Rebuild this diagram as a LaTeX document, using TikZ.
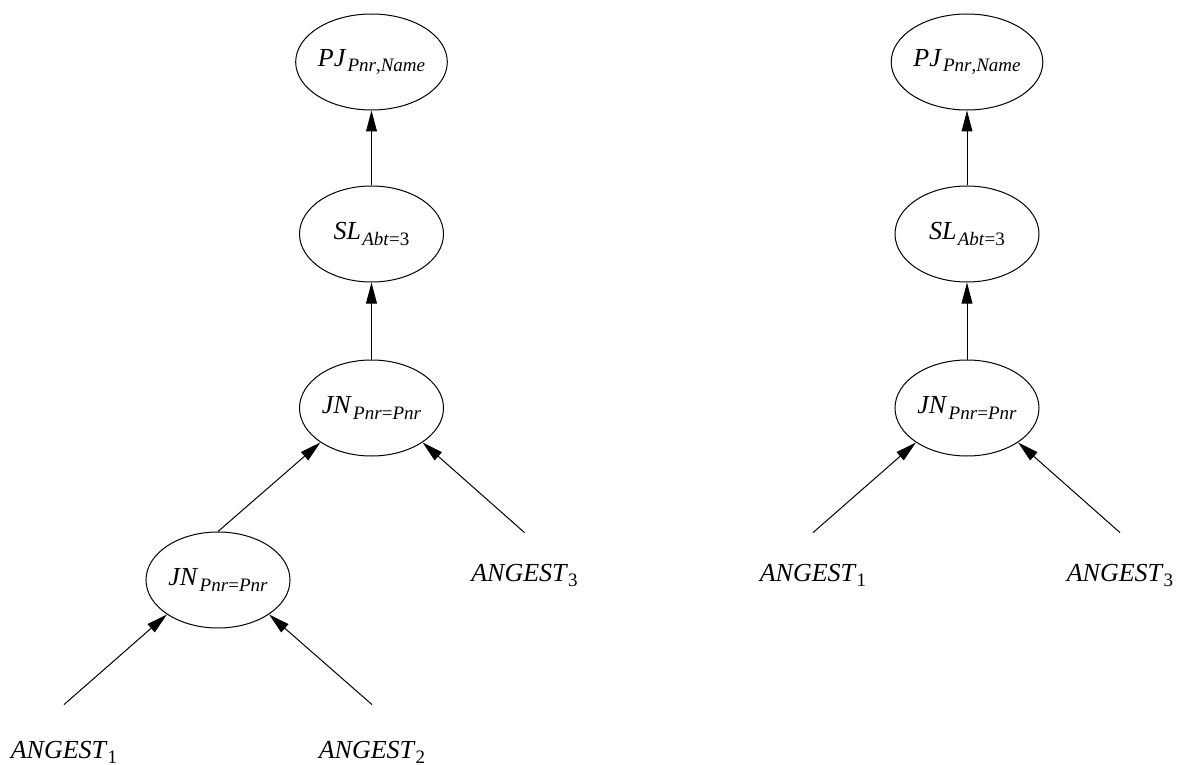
\documentclass[tikz,border=0pt]{standalone}
\usepackage{fontspec}
\setmainfont{Liberation Serif}
\usetikzlibrary{arrows.meta,shapes.geometric}

% lowered, smaller index text
\newcommand\idx[1]{\raisebox{-2.6pt}{\fontsize{9.5}{10}\selectfont #1}}
\newcommand\opname[2]{\textit{#1}\kern0.6pt\idx{#2}}

\begin{document}
\begin{tikzpicture}[x=0.5pt,y=-0.5pt,
  font=\fontsize{13}{15}\selectfont,
  op/.style={draw,ellipse,line width=0.5pt,minimum width=72pt,minimum height=48pt,inner sep=0pt},
  rel/.style={anchor=base,inner sep=0pt,text height=24pt},
  relbottom/.style={anchor=base,inner sep=0pt,text height=26.5pt},
  flow/.style={line width=0.5pt,-{Triangle[length=10.5pt,width=5.4pt]}}]
\useasboundingbox (0,0) rectangle (1179,765);

% left plan: two joins
\node[op] (pjl)  at (371.5,62)  {\opname{PJ}{\textit{Pnr},\textit{Name}}};
\node[op] (sll)  at (371.5,234) {\opname{SL}{\textit{Abt}=3}};
\node[op] (jnl)  at (371.5,408) {\opname{JN}{\textit{Pnr}=\textit{Pnr}}};
\node[op] (jnll) at (218,580)   {\opname{JN}{\textit{Pnr}=\textit{Pnr}}};
\node[rel] (al3) at (524.5,581) {\textit{ANGEST}\idx{3}};
\node[relbottom] (al1) at (64,758)  {\textit{ANGEST}\idx{1}};
\node[relbottom] (al2) at (372,758) {\textit{ANGEST}\idx{2}};

\draw[flow] (sll.north) -- (pjl.south);
\draw[flow] (jnl.north) -- (sll.south);
\draw[flow] (jnll.north) -- (jnl.214);
\draw[flow] (al3.north) -- (jnl.326);
\draw[flow] (al1.north) -- (jnll.214);
\draw[flow] (al2.north) -- (jnll.326);

% right plan: one join
\node[op] (pjr) at (967,62)  {\opname{PJ}{\textit{Pnr},\textit{Name}}};
\node[op] (slr) at (967,234) {\opname{SL}{\textit{Abt}=3}};
\node[op] (jnr) at (967,408) {\opname{JN}{\textit{Pnr}=\textit{Pnr}}};
\node[rel] (ar1) at (813,581)  {\textit{ANGEST}\idx{1}};
\node[rel] (ar3) at (1120,581) {\textit{ANGEST}\idx{3}};

\draw[flow] (slr.north) -- (pjr.south);
\draw[flow] (jnr.north) -- (slr.south);
\draw[flow] (ar1.north) -- (jnr.214);
\draw[flow] (ar3.north) -- (jnr.326);
\end{tikzpicture}
\end{document}
